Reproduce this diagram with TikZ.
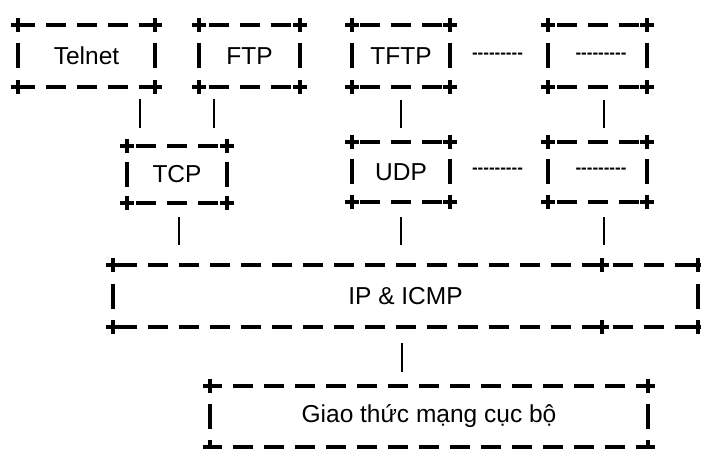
\documentclass[tikz,border=0pt]{standalone}
\usepackage{fontspec}
\setmainfont{Liberation Sans}
\newcommand\hyrow{-\kern0pt-\kern0pt-\kern0pt-\kern0pt-\kern0pt-\kern0pt-\kern0pt-\kern0pt-}
\tikzset{
  box/.style={rectangle, draw=none, inner sep=0pt, outer sep=0pt, font=\fontsize{24.5}{28}\selectfont},
  hside/.style={line width=3.4pt, dash pattern=on 20pt off 11pt, dash phase=10pt},
  vside/.style={line width=3.4pt, dash pattern=on 25pt off 18pt, dash phase=12.5pt},
  cornermark/.style={line width=3.4pt},
  conn/.style={line width=2.4pt},
  dotrow/.style={font=\fontsize{17}{20}\selectfont\bfseries, inner sep=0pt, anchor=base}
}
\begin{document}
\begin{tikzpicture}[x=1pt,y=-1pt]
\useasboundingbox (0,0) rectangle (701,449);
% boxes
\node[box, minimum width=137pt, minimum height=62pt] (telnet) at (86.5,56) {Telnet};
\node[box, minimum width=101pt, minimum height=62pt] (ftp) at (249.5,56) {FTP};
\node[box, minimum width=100pt, minimum height=57pt] (tcp) at (177,174.5) {TCP};
\node[box, minimum width=98pt, minimum height=62pt] (tftp) at (401,56) {TFTP};
\node[box, minimum width=99pt, minimum height=62pt] (r1) at (597.5,56) {};
\node[box, minimum width=98pt, minimum height=60pt] (udp) at (401,172) {UDP};
\node[box, minimum width=99pt, minimum height=60pt] (r2) at (597.5,172) {};
\node[box, minimum width=585pt, minimum height=62pt] (ip) at (405.5,296) {IP \& ICMP};
\node[box, minimum width=438pt, minimum height=61pt] (giao) at (429,416.5) {Giao thức mạng cục bộ};
% dotted texts
\node[dotrow] (d1) at (497.5,58.5) {\hyrow};
\node[dotrow] (d2) at (601,58.5) {\hyrow};
\node[dotrow] (d3) at (497.5,173.8) {\hyrow};
\node[dotrow] (d4) at (601,173.8) {\hyrow};
% borders
\foreach \n in {telnet,ftp,tcp,tftp,r1,udp,r2,ip,giao}{
  \draw[hside] (\n.north) -- (\n.north west) (\n.north) -- (\n.north east)
               (\n.south) -- (\n.south west) (\n.south) -- (\n.south east);
  \draw[vside] (\n.west) -- (\n.north west) (\n.west) -- (\n.south west)
               (\n.east) -- (\n.north east) (\n.east) -- (\n.south east);
  \foreach \c in {north west,north east,south west,south east}
    \draw[cornermark] ([xshift=-7pt]\n.\c) -- ([xshift=7pt]\n.\c)
                      ([yshift=-7pt]\n.\c) -- ([yshift=7pt]\n.\c);
}
% extra marks on IP box
\coordinate (ipmt) at (602,265);
\coordinate (ipmb) at (602,327);
\foreach \m in {ipmt,ipmb}
  \draw[cornermark] ([xshift=-7pt]\m) -- ([xshift=7pt]\m) ([yshift=-7pt]\m) -- ([yshift=7pt]\m);
% connector x positions
\path (140,0) coordinate (xa) (214,0) coordinate (xb) (179,0) coordinate (xc)
      (401,0) coordinate (xd) (604,0) coordinate (xe) (402,0) coordinate (xf);
\draw[conn, shorten <=12pt, shorten >=18pt] (telnet.south -| xa) -- (tcp.north -| xa);
\draw[conn, shorten <=12pt, shorten >=18pt] (ftp.south -| xb) -- (tcp.north -| xb);
\draw[conn, shorten <=14pt, shorten >=20pt] (tcp.south -| xc) -- (ip.north -| xc);
\draw[conn, shorten <=13pt, shorten >=14pt] (tftp.south -| xd) -- (udp.north -| xd);
\draw[conn, shorten <=13pt, shorten >=14pt] (r1.south -| xe) -- (r2.north -| xe);
\draw[conn, shorten <=15pt, shorten >=20pt] (udp.south -| xd) -- (ip.north -| xd);
\draw[conn, shorten <=15pt, shorten >=20pt] (r2.south -| xe) -- (ip.north -| xe);
\draw[conn, shorten <=16pt, shorten >=14pt] (ip.south -| xf) -- (giao.north -| xf);
\end{tikzpicture}
\end{document}
